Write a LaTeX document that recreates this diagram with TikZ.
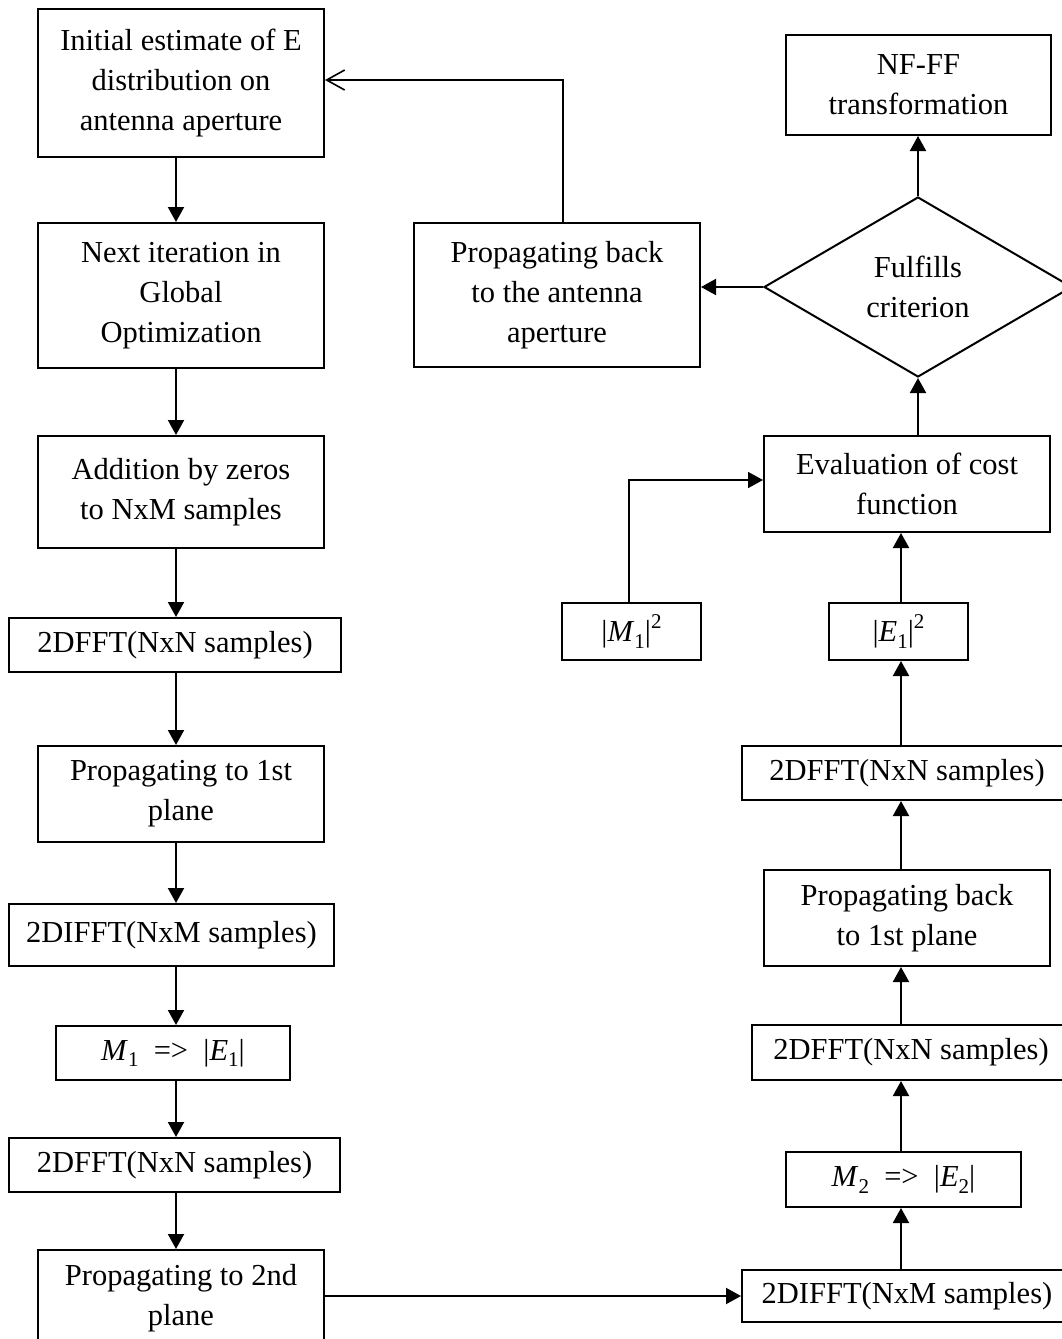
\documentclass[tikz,border=0pt]{standalone}
\usepackage{fontspec}
\setmainfont{Liberation Serif}
\usetikzlibrary{arrows.meta,shapes.geometric}

% italic symbol with a lowered index, and a raised exponent, set in the text font
\newcommand\symsub[2]{\textit{#1}\raisebox{-0.22em}{\fontsize{21}{21}\selectfont #2}}
\newcommand\symsup[1]{\raisebox{0.42em}{\fontsize{21}{21}\selectfont #1}}

\begin{document}
\begin{tikzpicture}[x=1pt,y=-1pt,
  every node/.style={font=\fontsize{30.5}{40}\selectfont, align=center, inner sep=0pt},
  blk/.style={draw, line width=2pt, rectangle, minimum width=#1},
  arr/.style={line width=2pt, -{Triangle[length=15pt,width=16pt]}},
  back/.style={line width=1.6pt, -{Straight Barb[length=18pt,width=20pt,line width=1.6pt]}},
  feed/.style={line width=1.6pt, -{Triangle[length=15pt,width=16pt]}}]

  \clip (0,0) rectangle (1062,1339);
  \fill[white] (0,0) rectangle (1062,1339);

  % column guides for the vertical connectors
  \coordinate (cL) at (176,0);
  \coordinate (cR) at (901,0);
  \coordinate (cD) at (918,0);
  \coordinate (cM) at (629,0);
  \coordinate (cP) at (563,0);

  % left column
  \node[blk=286pt, minimum height=148pt] (b1) at (181,83)
    {Initial estimate of E\\distribution on\\antenna aperture};
  \node[blk=286pt, minimum height=145pt] (b2) at (181,295.5)
    {Next iteration in\\Global\\Optimization};
  \node[blk=286pt, minimum height=112pt] (b3) at (181,492)
    {Addition by zeros\\to NxM samples};
  \node[blk=332pt, minimum height=54pt] (b4) at (175,645)
    {2DFFT(NxN samples)};
  \node[blk=286pt, minimum height=96pt] (b5) at (181,794)
    {Propagating to 1st\\plane};
  \node[blk=325pt, minimum height=62pt] (b6) at (171.5,935)
    {2DIFFT(NxM samples)};
  \node[blk=234pt, minimum height=54pt] (b7) at (173,1053)
    {\symsub{M}{1}\ \ =>\ \ |\symsub{E}{1}|};
  \node[blk=331pt, minimum height=54pt] (b8) at (174.5,1165)
    {2DFFT(NxN samples)};
  \node[blk=286pt, minimum height=96pt] (b9) at (181,1298)
    {Propagating to 2nd\\plane};

  % right column
  \node[blk=330pt, minimum height=52pt] (r1) at (907,1296)
    {2DIFFT(NxM samples)};
  \node[blk=235pt, minimum height=55pt] (r2) at (903.5,1179.5)
    {\symsub{M}{2}\ \ =>\ \ |\symsub{E}{2}|};
  \node[blk=318pt, minimum height=55pt] (r3) at (911,1052.5)
    {2DFFT(NxN samples)};
  \node[blk=286pt, minimum height=96pt] (r4) at (907,918)
    {Propagating back\\to 1st plane};
  \node[blk=330pt, minimum height=54pt] (r5) at (907,773)
    {2DFFT(NxN samples)};
  \node[blk=139pt, minimum height=57pt] (r6) at (898.5,631.5)
    {|\symsub{E}{1}|\symsup{2}};
  \node[blk=139pt, minimum height=57pt] (m1) at (631.5,631.5)
    {|\symsub{M}{1}|\symsup{2}};
  \node[blk=286pt, minimum height=96pt] (ev) at (907,484)
    {Evaluation of cost\\function};
  \node[draw, line width=2pt, diamond, minimum width=308pt, minimum height=180pt] (dm) at (918,287)
    {Fulfills\\criterion};
  \node[blk=286pt, minimum height=144pt] (pb) at (557,295)
    {Propagating back\\to the antenna\\aperture};
  \node[blk=265pt, minimum height=100pt] (nf) at (918.5,85)
    {NF-FF\\transformation};

  % left column flow
  \draw[arr] (b1.south -| cL) -- (b2.north -| cL);
  \draw[arr] (b2.south -| cL) -- (b3.north -| cL);
  \draw[arr] (b3.south -| cL) -- (b4.north -| cL);
  \draw[arr] (b4.south -| cL) -- (b5.north -| cL);
  \draw[arr] (b5.south -| cL) -- (b6.north -| cL);
  \draw[arr] (b6.south -| cL) -- (b7.north -| cL);
  \draw[arr] (b7.south -| cL) -- (b8.north -| cL);
  \draw[arr] (b8.south -| cL) -- (b9.north -| cL);

  % across to the second plane
  \draw[arr] (b9.east |- r1.west) -- (r1.west);

  % right column flow
  \draw[arr] (r1.north -| cR) -- (r2.south -| cR);
  \draw[arr] (r2.north -| cR) -- (r3.south -| cR);
  \draw[arr] (r3.north -| cR) -- (r4.south -| cR);
  \draw[arr] (r4.north -| cR) -- (r5.south -| cR);
  \draw[arr] (r5.north -| cR) -- (r6.south -| cR);
  \draw[arr] (r6.north -| cR) -- (ev.south -| cR);
  \draw[feed] (m1.north -| cM) |- ([yshift=4pt]ev.west);
  \draw[arr] (ev.north -| cD) -- (dm.south);
  \draw[arr] (dm.north) -- (nf.south -| dm.north);
  \draw[arr] (dm.west) -- (dm.west -| pb.east);

  % loop back to the start
  \draw[back] (pb.north -| cP) |- ([yshift=3pt]b1.east);
\end{tikzpicture}
\end{document}
